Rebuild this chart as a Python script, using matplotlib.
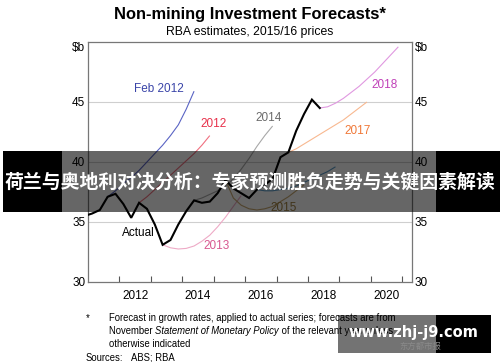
import matplotlib
matplotlib.use("Agg")
import matplotlib.pyplot as plt
from matplotlib.patches import Rectangle

# ---------------- data ----------------
actual_start = "2010Q4"
actual_values = [35.5, 35.7, 36.0, 37.1, 37.35, 36.5, 35.35, 36.6, 36.1, 34.8, 33.1,
                 33.5, 34.8, 35.9, 36.8, 36.6, 36.7, 37.4, 38.5, 37.8, 37.4, 37.0,
                 37.7, 38.1, 38.6, 40.4, 40.8, 42.6, 44.0, 45.2, 44.5]

feb2012_start = "2011Q3"
feb2012_values = [37.1, 37.6, 38.2, 38.7, 39.3, 40.0, 40.7, 41.4, 42.2, 43.1, 44.4, 45.9]
f2012_start = "2012Q3"
f2012_values = [36.6, 37.1, 37.7, 38.3, 38.9, 39.5, 40.1, 40.7, 41.4, 42.2]
f2013_start = "2013Q2"
f2013_values = [33.1, 32.85, 32.75, 32.8, 33.0, 33.4, 33.9, 34.6, 35.4, 36.3, 37.2]
f2014_start = "2014Q2"
f2014_values = [36.8, 37.0, 37.3, 37.6, 38.0, 38.6, 39.4, 40.3, 41.3, 42.2, 43.0]
f2015_start = "2015Q2"
f2015_values = [38.5, 37.0, 36.4, 36.1, 36.0, 36.1, 36.3, 36.7, 37.1, 37.6, 38.1]
f2016_start = "2016Q2"
f2016_values = [37.7, 37.6, 37.6, 37.7, 37.8, 38.0, 38.3, 38.6, 38.9, 39.2, 39.6]
f2017_start = "2017Q2"
f2017_values = [40.8, 41.1, 41.5, 41.9, 42.3, 42.7, 43.1, 43.5, 44.0, 44.5, 45.0]
f2018_start = "2018Q2"
f2018_values = [44.5, 44.6, 44.9, 45.3, 45.8, 46.3, 46.9, 47.5, 48.2, 48.9, 49.6]

x_tick_labels = ["2012", "2014", "2016", "2018", "2020"]
y_tick_values = [30, 35, 40, 45, 50]
y_tick_labels = ["30", "35", "40", "45", "$b"]

title = "Non-mining Investment Forecasts*"
subtitle = "RBA estimates, 2015/16 prices"
banner_text = "荷兰与奥地利对决分析：专家预测胜负走势与关键因素解读"
watermark_text = "www.zhj-j9.com"


def quarter_x(start, n):
    year, q = start.split("Q")
    base = int(year) + (int(q) - 0.5) / 4.0
    return [base + 0.25 * i for i in range(n)]


plt.rcParams["font.family"] = ["Liberation Sans", "DejaVu Sans"]

W, H = 500, 362
fig = plt.figure(figsize=(5.0, 3.62), dpi=100)
fig.patch.set_facecolor("white")

def fx(px):
    return px / W

def fy(py):
    return 1 - py / H

ax = fig.add_axes([fx(88), fy(282), fx(412) - fx(88), fy(42) - fy(282)])
ax.set_xlim(2011.0, 2021.31)
ax.set_ylim(30, 50)

series = [
    (feb2012_start, feb2012_values, "#5a64c4"),
    (f2012_start, f2012_values, "#f07080"),
    (f2013_start, f2013_values, "#eeaac6"),
    (f2014_start, f2014_values, "#a8a8a8"),
    (f2015_start, f2015_values, "#c8a870"),
    (f2016_start, f2016_values, "#5c9cc8"),
    (f2017_start, f2017_values, "#f8b890"),
    (f2018_start, f2018_values, "#e098e0"),
]
for start, vals, col in series:
    ax.plot(quarter_x(start, len(vals)), vals, color=col, lw=0.8, zorder=3,
            solid_capstyle="butt")

ax.plot(quarter_x(actual_start, len(actual_values)), actual_values, color="black",
        lw=1.5, zorder=4, solid_joinstyle="miter")

# gridlines
for v in y_tick_values[1:-1]:
    ax.axhline(v, color="#cfcfcf", lw=0.8, zorder=1)

# series labels
lab_fs = 8.5
ax.text(2013.26, 46.08, "Feb 2012", color="#3a44a8", fontsize=lab_fs, ha="center", va="center")
ax.text(2014.98, 43.17, "2012", color="#e8304a", fontsize=lab_fs, ha="center", va="center")
ax.text(2016.76, 43.65, "2014", color="#6a6a6a", fontsize=lab_fs, ha="center", va="center")
ax.text(2020.45, 46.42, "2018", color="#c040b8", fontsize=lab_fs, ha="center", va="center")
ax.text(2019.59, 42.58, "2017", color="#f07838", fontsize=lab_fs, ha="center", va="center")
ax.text(2015.08, 33.0, "2013", color="#d85890", fontsize=lab_fs, ha="center", va="center")
ax.text(2017.24, 36.17, "2015", color="#a08040", fontsize=lab_fs, ha="center", va="center")
ax.text(2012.59, 34.08, "Actual", color="black", fontsize=lab_fs, ha="center", va="center")

# ticks
year_bounds = list(range(2012, 2022))
ax.set_xticks([int(l) + 0.5 for l in x_tick_labels])
ax.set_xticklabels(x_tick_labels, fontsize=8.5)
ax.set_xticks(year_bounds, minor=True)
ax.tick_params(axis="x", which="major", length=0, pad=6)
ax.tick_params(axis="x", which="minor", direction="in", length=4, width=0.8, color="#555555")
ax.set_yticks(y_tick_values)
ax.set_yticklabels([l.replace("$", r"\$") for l in y_tick_labels], fontsize=8.5)
ax.tick_params(axis="y", length=0, pad=2, labelleft=True, labelright=True)
for lab in ax.get_yticklabels(which="major") + ax.yaxis.get_ticklabels(which="major"):
    pass
for t in ax.yaxis.get_major_ticks()[-1:]:
    t.label1.set_va("top")
    t.label2.set_va("top")

for s in ax.spines.values():
    s.set_color("#777777")
    s.set_linewidth(0.9)

# titles
fig.text(0.5, fy(15), title, ha="center", va="center", fontsize=11.9, fontweight="bold")
fig.text(0.5, fy(32), subtitle, ha="center", va="center", fontsize=8.8)

# footnotes
fn_fs = 6.85
fig.text(fx(86), fy(318), "*", ha="left", va="center", fontsize=fn_fs)
fig.text(fx(109), fy(318), "Forecast in growth rates, applied to actual series; forecasts are from",
         ha="left", va="center", fontsize=fn_fs)
t1 = fig.text(fx(109), fy(331), "November ", ha="left", va="center", fontsize=fn_fs)
a2 = ax.annotate("Statement of Monetary Policy", xy=(1, 0.5), xycoords=t1,
                 ha="left", va="center", fontsize=fn_fs, style="italic", annotation_clip=False)
a3 = ax.annotate(" of the relevant year unless", xy=(1, 0.5), xycoords=a2,
                 ha="left", va="center", fontsize=fn_fs, annotation_clip=False)
fig.text(fx(109), fy(344), "otherwise indicated", ha="left", va="center", fontsize=fn_fs)
fig.text(fx(86), fy(358), "Sources:", ha="left", va="center", fontsize=fn_fs)
fig.text(fx(131), fy(358), "ABS; RBA", ha="left", va="center", fontsize=fn_fs)

# banner overlay
fig.add_artist(Rectangle((fx(62), fy(212)), fx(436) - fx(62), fy(151) - fy(212),
                         transform=fig.transFigure, facecolor="black", alpha=0.6,
                         edgecolor="none", zorder=10))
fig.add_artist(Rectangle((fx(3), fy(212)), fx(62) - fx(3), fy(151) - fy(212),
                         transform=fig.transFigure, facecolor="black",
                         edgecolor="none", zorder=10))
fig.add_artist(Rectangle((fx(436), fy(212)), 1 - fx(436), fy(151) - fy(212),
                         transform=fig.transFigure, facecolor="black",
                         edgecolor="none", zorder=10))
fig.text(0.5, fy(182), banner_text, ha="center", va="center", fontsize=13.6,
         fontweight="bold", color="white", family=["Noto Sans CJK SC", "DejaVu Sans"],
         zorder=11)

# watermark
fig.add_artist(Rectangle((fx(338), fy(353)), fx(436) - fx(338), fy(315) - fy(353),
                         transform=fig.transFigure, facecolor="black", alpha=0.55,
                         edgecolor="none", zorder=10))
fig.add_artist(Rectangle((fx(436), fy(353)), fx(491) - fx(436), fy(315) - fy(353),
                         transform=fig.transFigure, facecolor="black",
                         edgecolor="none", zorder=10))
fig.text(fx(413), fy(332), watermark_text, ha="center", va="center", fontsize=10.5,
         fontweight="bold", color="white", family=["DejaVu Sans"], zorder=11)
fig.text(fx(420), fy(346), "东方都市报", ha="center", va="center", fontsize=6,
         color="#8a8a8a", family=["Noto Sans CJK SC", "DejaVu Sans"], zorder=11)

fig.savefig("out.png", dpi=100)
